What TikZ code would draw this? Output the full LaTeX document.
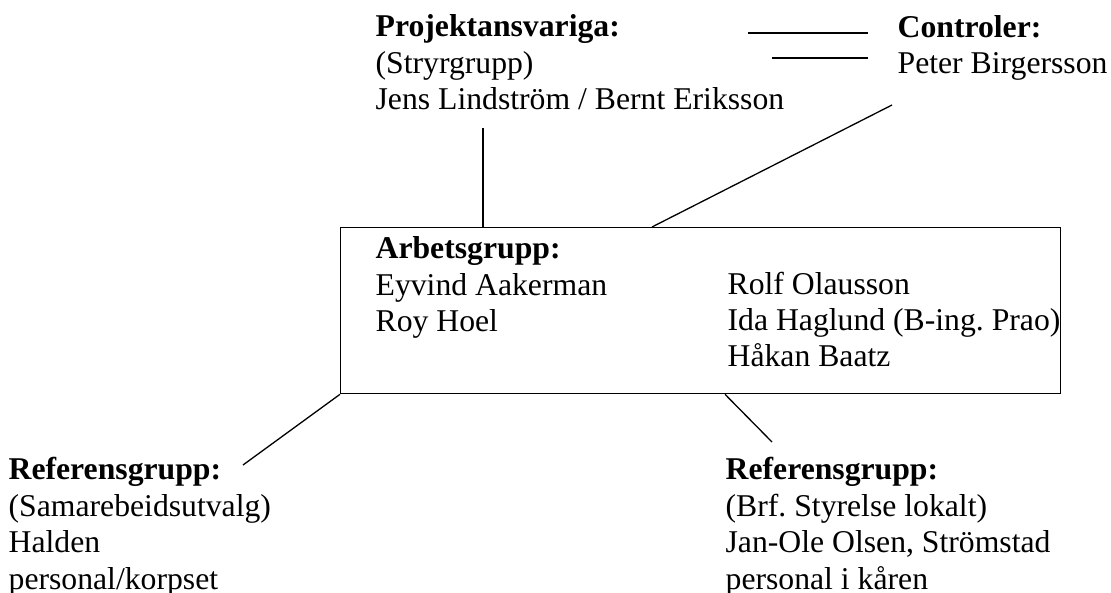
\documentclass[tikz,border=0pt]{standalone}
\usepackage{fontspec}
\setmainfont{Liberation Serif}
\usetikzlibrary{calc}
\frenchspacing

\begin{document}
\begin{tikzpicture}[x=1pt,y=1pt,line width=1.3pt,
    font=\fontsize{31.7}{36.5}\selectfont,
    txt/.style={anchor=base west,align=left,inner sep=0pt},
    grpbox/.style={draw,anchor=north west,inner sep=0pt,minimum width=720pt,minimum height=166pt}]
   \useasboundingbox (0,0) rectangle (1111,-593);
   \node[txt] (proj) at (375,-110) {\textbf{Projektansvariga:}\\(Stryrgrupp)\\Jens Lindström / Bernt Eriksson};
   \node[txt] (ctrl) at (897,-74) {\textbf{Controler:}\\Peter Birgersson};
   \node[grpbox] (arb) at (340,-227) {};
   \node[txt] (arb1) at (375,-332) {\textbf{Arbetsgrupp:}\\Eyvind Aakerman\\Roy Hoel};
   \node[txt] (arb2) at (727,-367) {Rolf Olausson\\Ida Haglund (B-ing. Prao)\\Håkan Baatz};
   \node[txt] (refl) at (8,-589) {\textbf{Referensgrupp:}\\(Samarebeidsutvalg)\\Halden\\personal/korpset};
   \node[txt] (refr) at (725,-589) {\textbf{Referensgrupp:}\\(Brf. Styrelse lokalt)\\Jan-Ole Olsen, Strömstad\\personal i kåren};
   \coordinate (projfoot) at (483,-128);
   \coordinate (ctrlfoot) at (892,-105);
   \coordinate (refltop) at (243,-465);
   \coordinate (refrtop) at (772,-442);
   \draw (projfoot) -- (projfoot |- arb.north);
   \draw (ctrlfoot) -- (652,0 |- arb.north);
   \draw (arb.south west) -- (refltop);
   \draw (725,0 |- arb.south) -- (refrtop);
   \draw (748,-33) -- (868,-33);
   \draw (772,-58) -- (868,-58);
\end{tikzpicture}
\end{document}
